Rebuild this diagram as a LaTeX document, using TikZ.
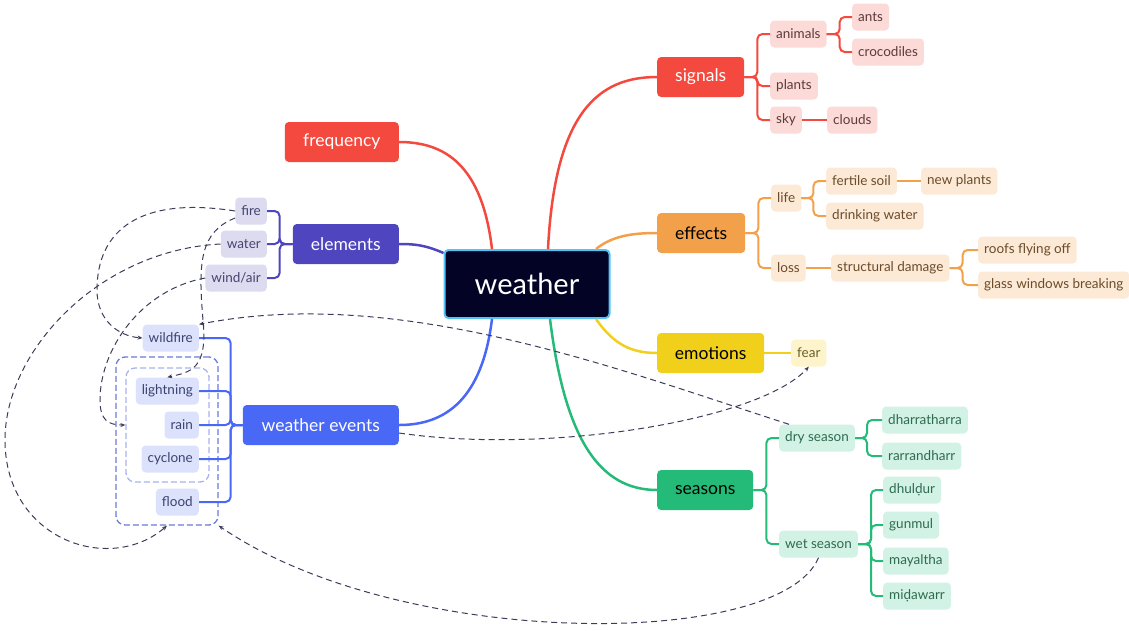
\documentclass[tikz,border=0pt]{standalone}
\usepackage{fontspec}
\setmainfont{Lato}
\usetikzlibrary{arrows.meta}

\definecolor{redc}{HTML}{F4493F}
\definecolor{orangec}{HTML}{F3A04A}
\definecolor{yellowc}{HTML}{F0D01B}
\definecolor{greenc}{HTML}{24BB78}
\definecolor{purplec}{HTML}{4F46BF}
\definecolor{bluec}{HTML}{4A68F6}
\definecolor{rootc}{HTML}{030326}
\definecolor{rootb}{HTML}{55C2F5}
\definecolor{pinkf}{HTML}{FCDAD7}
\definecolor{peachf}{HTML}{FCE9D6}
\definecolor{lemonf}{HTML}{FDF4CC}
\definecolor{mintf}{HTML}{D1F2E4}
\definecolor{lavf}{HTML}{DCDBF0}
\definecolor{skyf}{HTML}{DCE2FC}
\definecolor{pinkt}{HTML}{5B3A3A}
\definecolor{peacht}{HTML}{6B4B2A}
\definecolor{lemont}{HTML}{6B5E2A}
\definecolor{mintt}{HTML}{2F6B50}
\definecolor{lavt}{HTML}{45456E}
\definecolor{skyt}{HTML}{3A4270}
\definecolor{linkc}{HTML}{3C3C5A}
\definecolor{grpo}{HTML}{6A7AD8}
\definecolor{grpi}{HTML}{A7B2EE}

\begin{document}
\begin{tikzpicture}[x=1pt,y=-1pt,
  >={Stealth[length=5pt,width=4pt]},
  root/.style={fill=rootc,draw=rootb,line width=2pt,rounded corners=4pt,text=white,
    minimum width=165pt,minimum height=68pt,font=\fontsize{29}{31}\selectfont},
  topic/.style={rounded corners=4pt,minimum height=40pt,inner xsep=16pt,font=\fontsize{17.5}{19}\selectfont},
  leaf/.style={rounded corners=4pt,minimum height=27pt,inner xsep=6pt,font=\fontsize{13.5}{15}\selectfont},
  br/.style={line width=2pt,rounded corners=5pt},
  main/.style={line width=2.5pt},
  link/.style={->,linkc,line width=1pt,dash pattern=on 6pt off 4pt},
  grp/.style={draw,dash pattern=on 6pt off 3pt,rounded corners=9pt,line width=1.3pt}
]
\useasboundingbox (0,0) rectangle (1129,630);

\node[root] (weather) at (527,284) {weather};

\node[topic,fill=redc,text=white,anchor=east,minimum width=114pt] (frequency) at (399,142) {frequency};
\node[topic,fill=purplec,text=white,anchor=east,minimum width=106pt] (elements) at (399,244) {elements};
\node[topic,fill=bluec,text=white,anchor=east,minimum width=156pt] (events) at (399,425) {weather events};
\node[topic,fill=redc,text=white,anchor=west,minimum width=87pt] (signals) at (657,77) {signals};
\node[topic,fill=orangec,text=black,anchor=west,minimum width=88pt] (effects) at (657,233) {effects};
\node[topic,fill=yellowc,text=black,anchor=west,minimum width=107pt] (emotions) at (657,353) {emotions};
\node[topic,fill=greenc,text=black,anchor=west,minimum width=96pt] (seasons) at (657,490) {seasons};

\node[leaf,fill=pinkf,text=pinkt,anchor=west] (animals) at (770,34) {animals};
\node[leaf,fill=pinkf,text=pinkt,anchor=west] (plants) at (770,86) {plants};
\node[leaf,fill=pinkf,text=pinkt,anchor=west] (sky) at (770,120) {sky};
\node[leaf,fill=pinkf,text=pinkt,anchor=west] (ants) at (852,17) {ants};
\node[leaf,fill=pinkf,text=pinkt,anchor=west] (crocodiles) at (852,52) {crocodiles};
\node[leaf,fill=pinkf,text=pinkt,anchor=west] (clouds) at (827,120) {clouds};

\node[leaf,fill=peachf,text=peacht,anchor=west] (life) at (771,198) {life};
\node[leaf,fill=peachf,text=peacht,anchor=west] (loss) at (771,268) {loss};
\node[leaf,fill=peachf,text=peacht,anchor=west] (soil) at (826,181) {fertile soil};
\node[leaf,fill=peachf,text=peacht,anchor=west] (drinking) at (826,216) {drinking water};
\node[leaf,fill=peachf,text=peacht,anchor=west] (newplants) at (921,181) {new plants};
\node[leaf,fill=peachf,text=peacht,anchor=west] (damage) at (831,268) {structural damage};
\node[leaf,fill=peachf,text=peacht,anchor=west] (roofs) at (978,250) {roofs flying off};
\node[leaf,fill=peachf,text=peacht,anchor=west] (glass) at (978,285) {glass windows breaking};

\node[leaf,fill=lemonf,text=lemont,anchor=west] (fear) at (791,353) {fear};

\node[leaf,fill=mintf,text=mintt,anchor=west] (dry) at (779,438) {dry season};
\node[leaf,fill=mintf,text=mintt,anchor=west] (wet) at (779,544) {wet season};
\node[leaf,fill=mintf,text=mintt,anchor=west] (dharra) at (882,420) {dharratharra};
\node[leaf,fill=mintf,text=mintt,anchor=west] (rarra) at (882,456) {rarrandharr};
\node[leaf,fill=mintf,text=mintt,anchor=west] (dhuldur) at (883,490) {dhulḍur};
\node[leaf,fill=mintf,text=mintt,anchor=west] (gunmul) at (883,525) {gunmul};
\node[leaf,fill=mintf,text=mintt,anchor=west] (mayaltha) at (883,561) {mayaltha};
\node[leaf,fill=mintf,text=mintt,anchor=west] (midawarr) at (883,596) {miḍawarr};

\node[leaf,fill=lavf,text=lavt,anchor=east] (fire) at (267,211) {fire};
\node[leaf,fill=lavf,text=lavt,anchor=east] (water) at (267,244) {water};
\node[leaf,fill=lavf,text=lavt,anchor=east] (windair) at (267,278) {wind/air};

\node[grp,draw=grpo,minimum width=102pt,minimum height=168pt] (outer) at (167,441) {};
\node[grp,draw=grpi,minimum width=83pt,minimum height=114pt] (inner) at (167.5,425) {};
\node[leaf,fill=skyf,text=skyt,anchor=east] (wildfire) at (199,338) {wildfire};
\node[leaf,fill=skyf,text=skyt,anchor=east] (lightning) at (199,391) {lightning};
\node[leaf,fill=skyf,text=skyt,anchor=east] (rain) at (199,425) {rain};
\node[leaf,fill=skyf,text=skyt,anchor=east] (cyclone) at (199,459) {cyclone};
\node[leaf,fill=skyf,text=skyt,anchor=east] (flood) at (199,502) {flood};

\draw[main,redc] ([xshift=-35pt]weather.north) .. controls (482,165) and (445,142) .. (frequency.east);
\draw[main,purplec] ([yshift=-4pt]weather.north west) .. controls (425,245) and (415,244) .. (elements.east);
\draw[main,bluec] ([xshift=-35pt]weather.south) .. controls (482,400) and (445,425) .. (events.east);
\draw[main,redc] ([xshift=21pt]weather.north) .. controls (555,110) and (600,77) .. (signals.west);
\draw[main,orangec] ([xshift=69pt]weather.north) .. controls (612,236) and (632,233) .. (effects.west);
\draw[main,yellowc] ([xshift=69pt]weather.south) .. controls (614,345) and (632,353) .. (emotions.west);
\draw[main,greenc] ([xshift=23pt]weather.south) .. controls (565,440) and (600,490) .. (seasons.west);

\draw[br,redc] (signals.east) -- ++(13,0) |- (animals.west);
\draw[br,redc] (signals.east) -- ++(13,0) |- (plants.west);
\draw[br,redc] (signals.east) -- ++(13,0) |- (sky.west);
\draw[br,redc] (animals.east) -- ++(13,0) |- (ants.west);
\draw[br,redc] (animals.east) -- ++(13,0) |- (crocodiles.west);
\draw[br,redc] (sky) -- (clouds);

\draw[br,orangec] (effects.east) -- ++(13,0) |- (life.west);
\draw[br,orangec] (effects.east) -- ++(13,0) |- (loss.west);
\draw[br,orangec] (life.east) -- ++(12,0) |- (soil.west);
\draw[br,orangec] (life.east) -- ++(12,0) |- (drinking.west);
\draw[br,orangec] (soil) -- (newplants);
\draw[br,orangec] (loss) -- (damage);
\draw[br,orangec] (damage.east) -- ++(13,0) |- (roofs.west);
\draw[br,orangec] (damage.east) -- ++(13,0) |- (glass.west);

\draw[br,yellowc] (emotions) -- (fear);

\draw[br,greenc] (seasons.east) -- ++(13,0) |- (dry.west);
\draw[br,greenc] (seasons.east) -- ++(13,0) |- (wet.west);
\draw[br,greenc] (dry.east) -- ++(12,0) |- (dharra.west);
\draw[br,greenc] (dry.east) -- ++(12,0) |- (rarra.west);
\draw[br,greenc] (wet.east) -- ++(13,0) |- (dhuldur.west);
\draw[br,greenc] (wet.east) -- ++(13,0) |- (gunmul.west);
\draw[br,greenc] (wet.east) -- ++(13,0) |- (mayaltha.west);
\draw[br,greenc] (wet.east) -- ++(13,0) |- (midawarr.west);

\draw[br,purplec] (elements.west) -- ++(-13,0) |- (fire.east);
\draw[br,purplec] (elements.west) -- ++(-13,0) |- (water.east);
\draw[br,purplec] (elements.west) -- ++(-13,0) |- (windair.east);

\draw[br,bluec] (events.west) -- ++(-12,0) |- (wildfire.east);
\draw[br,bluec] (events.west) -- ++(-12,0) |- (lightning.east);
\draw[br,bluec] (events.west) -- ++(-12,0) |- (rain.east);
\draw[br,bluec] (events.west) -- ++(-12,0) |- (cyclone.east);
\draw[br,bluec] (events.west) -- ++(-12,0) |- (flood.east);

\draw[link] (fire.west) .. controls (140,196) and (97,230) .. (97,290) .. controls (97,320) and (118,336) .. (wildfire.west);
\draw[link] ([yshift=-7pt]fire.west) .. controls (200,232) and (198,262) .. (203,320) .. controls (208,370) and (190,372) .. (lightning.north);
\draw[link] (water.west) .. controls (100,250) and (5,350) .. (5,440) .. controls (5,540) and (110,575) .. (outer.south);
\draw[link] (windair.west) .. controls (140,290) and (100,350) .. (100,400) .. controls (100,420) and (108,425) .. (inner.west);
\draw[link] ([xshift=-28pt]dry.north) .. controls (620,370) and (400,285) .. (wildfire.north east);
\draw[link] ([yshift=-8pt]events.east) .. controls (550,455) and (760,420) .. (fear.south);
\draw[link] (wet.south) .. controls (780,650) and (400,650) .. (outer.south east);
\end{tikzpicture}
\end{document}
